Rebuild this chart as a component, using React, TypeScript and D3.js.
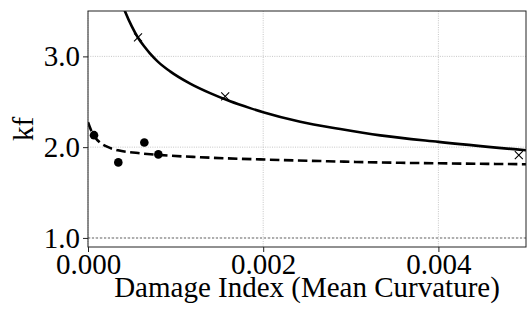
import React, { useRef, useEffect } from 'react';
import * as d3 from 'd3';

// measured points (x = damage index, y = kf)
const crossX = [0.000571, 0.001566, 0.004918];
const crossY = [3.209, 2.56, 1.912];
const dotX = [0.0000686, 0.000346, 0.000643, 0.000803];
const dotY = [2.132, 1.832, 2.052, 1.92];

// fitted curves
const solidX = [0.0004, 0.000423, 0.0005, 0.000571, 0.00065, 0.000709, 0.0008, 0.000937, 0.001166, 0.001394, 0.001623, 0.001851, 0.002, 0.002423, 0.00288, 0.003337, 0.004, 0.005006];
const solidY = [3.55, 3.495, 3.33, 3.205, 3.1, 3.03, 2.94, 2.835, 2.7, 2.595, 2.505, 2.43, 2.385, 2.28, 2.2, 2.13, 2.058, 1.965];
const dashX = [0, 0.000034, 0.00008, 0.000137, 0.000217, 0.000343, 0.000571, 0.0008, 0.001257, 0.001966, 0.002651, 0.003303, 0.004, 0.005006];
const dashY = [2.275, 2.19, 2.11, 2.05, 2.005, 1.965, 1.935, 1.915, 1.89, 1.865, 1.847, 1.832, 1.822, 1.812];

const xTicks = [0, 0.002, 0.004];
const yTicks = [1.0, 2.0, 3.0];

const W = 528;
const H = 313;
const margin = { top: 11, right: 2, bottom: 66, left: 88 };
const FONT = "'Liberation Serif', 'Times New Roman', Times, 'DejaVu Serif', serif";

function draw(svgEl: SVGSVGElement) {
  const svg = d3.select(svgEl);
  svg.selectAll('*').remove();

  const x = d3.scaleLinear().domain([0, 0.005]).range([margin.left, W - margin.right]);
  const y = d3.scaleLinear().domain([0.9, 3.5]).range([H - margin.bottom, margin.top]);

  svg.append('rect').attr('width', W).attr('height', H).attr('fill', 'white');

  svg.append('clipPath').attr('id', 'plotclip')
    .append('rect')
    .attr('x', margin.left).attr('y', margin.top)
    .attr('width', W - margin.left - margin.right)
    .attr('height', H - margin.top - margin.bottom);

  // grid
  const grid = svg.append('g');
  grid.selectAll('line.gx').data(xTicks).join('line')
    .attr('x1', d => x(d)).attr('x2', d => x(d))
    .attr('y1', margin.top).attr('y2', H - margin.bottom)
    .attr('stroke', '#b8b8b8').attr('stroke-width', 0.8).attr('stroke-dasharray', '1,1.3');
  grid.selectAll('line.gy').data(yTicks).join('line')
    .attr('x1', margin.left).attr('x2', W - margin.right)
    .attr('y1', d => y(d)).attr('y2', d => y(d))
    .attr('stroke', '#b8b8b8').attr('stroke-width', 0.8).attr('stroke-dasharray', '1,1.3');

  // reference line kf = 1
  svg.append('line')
    .attr('x1', margin.left).attr('x2', W - margin.right)
    .attr('y1', y(1)).attr('y2', y(1))
    .attr('stroke', '#999').attr('stroke-width', 1.5).attr('stroke-dasharray', '2,2');

  const plot = svg.append('g').attr('clip-path', 'url(#plotclip)');

  const line = d3.line<[number, number]>()
    .x(d => x(d[0])).y(d => y(d[1]))
    .curve(d3.curveMonotoneX);

  plot.append('path')
    .attr('d', line(solidX.map((v, i) => [v, solidY[i]]) as [number, number][]))
    .attr('fill', 'none').attr('stroke', 'black').attr('stroke-width', 2.6);

  plot.append('path')
    .attr('d', line(dashX.map((v, i) => [v, dashY[i]]) as [number, number][]))
    .attr('fill', 'none').attr('stroke', 'black').attr('stroke-width', 2.6)
    .attr('stroke-dasharray', '9.5,4.5');

  plot.selectAll('circle').data(dotX).join('circle')
    .attr('cx', d => x(d)).attr('cy', (d, i) => y(dotY[i]))
    .attr('r', 4.3).attr('fill', 'black');

  const s = 4;
  plot.selectAll('path.cross').data(crossX).join('path')
    .attr('class', 'cross')
    .attr('d', (d, i) => {
      const cx = x(d), cy = y(crossY[i]);
      return `M${cx - s},${cy - s}L${cx + s},${cy + s}M${cx - s},${cy + s}L${cx + s},${cy - s}`;
    })
    .attr('stroke', 'black').attr('stroke-width', 1.1).attr('fill', 'none');

  // frame
  svg.append('rect')
    .attr('x', margin.left).attr('y', margin.top)
    .attr('width', W - margin.left - margin.right)
    .attr('height', H - margin.top - margin.bottom)
    .attr('fill', 'none').attr('stroke', '#222').attr('stroke-width', 1);

  // axes
  const xAxis = d3.axisBottom(x).tickValues(xTicks).tickFormat(d3.format('.3f'))
    .tickSize(5).tickSizeOuter(0).tickPadding(1);
  const yAxis = d3.axisLeft(y).tickValues(yTicks).tickFormat(d3.format('.1f'))
    .tickSize(5).tickSizeOuter(0).tickPadding(3);

  const gx = svg.append('g').attr('transform', `translate(0, ${H - margin.bottom})`).call(xAxis);
  const gy = svg.append('g').attr('transform', `translate(${margin.left}, 0)`).call(yAxis);
  [gx, gy].forEach(g => {
    g.select('.domain').remove();
    g.attr('font-family', null).attr('font-size', null);
    g.selectAll('line').attr('stroke', '#222');
    g.selectAll('text').style('font-family', FONT).style('font-size', '29px').attr('fill', 'black');
  });

  svg.append('text')
    .attr('x', (margin.left + W - margin.right) / 2)
    .attr('y', 297)
    .attr('text-anchor', 'middle')
    .style('font-family', FONT).style('font-size', '29px')
    .text('Damage Index (Mean Curvature)');

  svg.append('text')
    .attr('transform', `translate(33, ${(margin.top + H - margin.bottom) / 2}) rotate(-90)`)
    .attr('text-anchor', 'middle')
    .style('font-family', FONT).style('font-size', '29px')
    .text('kf');
}

export default function App() {
  const ref = useRef<SVGSVGElement>(null);
  useEffect(() => {
    if (ref.current) draw(ref.current);
  }, []);
  return (
    <svg
      ref={ref}
      width={W}
      height={H}
      style={{ position: 'absolute', left: 0, top: 0 }}
    />
  );
}
